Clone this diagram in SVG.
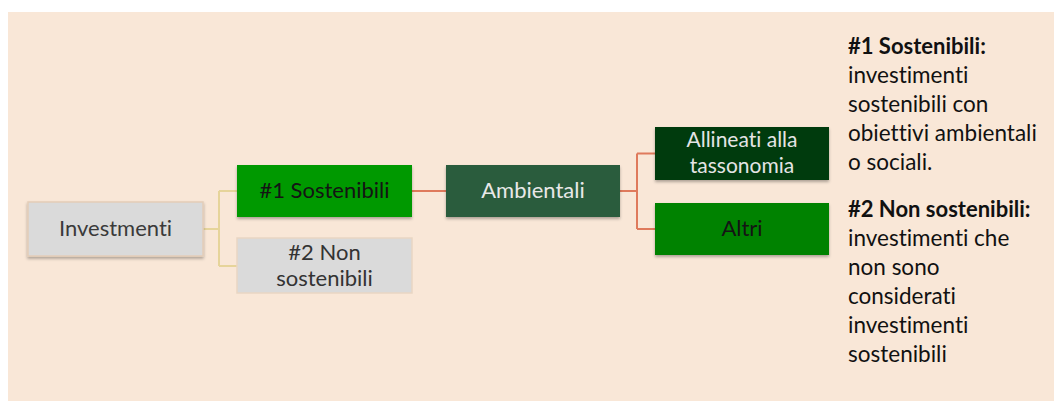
<svg xmlns="http://www.w3.org/2000/svg" width="1054" height="401" viewBox="0 0 1054 401">
  <defs>
    <filter id="sh" x="-10%" y="-20%" width="120%" height="150%">
      <feDropShadow dx="0" dy="2" stdDeviation="1.5" flood-color="#000" flood-opacity="0.3"/>
    </filter>
    <style>
      text { font-variant-ligatures: none; font-feature-settings: "liga" 0, "clig" 0; }
      .t { font-family: Lato, "Liberation Sans", sans-serif; font-size: 22px; }
      .c { text-anchor: middle; }
      .side { font-family: Lato, "Liberation Sans", sans-serif; font-size: 22.5px; fill: #111; }
      .b { font-weight: bold; font-size: 22px; }
      .lc1 { fill: none; stroke: #e6d49a; stroke-width: 2; }
      .lc2 { fill: none; stroke: #df7a5c; stroke-width: 2; }
    </style>
  </defs>
  <rect x="8" y="12" width="1046" height="389" fill="#f9e7d7"/>

  <g id="connectors">
    <path class="lc1" d="M203,229 H219 M219,191 V266 M219,191 H237 M219,266 H237"/>
    <path class="lc2" d="M412,191 H446"/>
    <path class="lc2" d="M620,191 H637 M637,153.5 V229 M637,153.5 H655 M637,229 H655"/>
  </g>

  <g id="investmenti">
    <rect x="28" y="202" width="175" height="54" fill="#dadada" stroke="#e3cdb8" stroke-width="1.5" filter="url(#sh)"/>
    <text class="t c" x="115.5" y="236" fill="#3a3a3a">Investmenti</text>
  </g>
  <g id="sostenibili">
    <rect x="237" y="165" width="175" height="52" fill="#009900" filter="url(#sh)"/>
    <text class="t c" x="324.5" y="198" fill="#141414">#1 Sostenibili</text>
  </g>
  <g id="non-sostenibili">
    <rect x="237" y="238" width="175" height="55" fill="#dadada" stroke="#e9d6c3" stroke-width="1.5"/>
    <text class="t c" x="324.5" y="260" fill="#333">#2 Non</text>
    <text class="t c" x="324.5" y="286" fill="#333">sostenibili</text>
  </g>
  <g id="ambientali">
    <rect x="446" y="165" width="174" height="52" fill="#2a5b3e" filter="url(#sh)"/>
    <text class="t c" x="533" y="198" fill="#e8e8e8">Ambientali</text>
  </g>
  <g id="allineati">
    <rect x="655" y="127" width="174" height="53" fill="#013a08" filter="url(#sh)"/>
    <text class="t c" x="742" y="147" fill="#e4e4e4" style="font-size:21px">Allineati alla</text>
    <text class="t c" x="742" y="173" fill="#e4e4e4" style="font-size:21px">tassonomia</text>
  </g>
  <g id="altri">
    <rect x="655" y="203" width="174" height="52" fill="#008200" filter="url(#sh)"/>
    <text class="t c" x="742" y="236" fill="#141414">Altri</text>
  </g>

  <g id="legend">
    <text class="side" x="848"><tspan class="b" x="848" y="54">#1 Sostenibili:</tspan><tspan x="848" y="83">investimenti</tspan><tspan x="848" y="112">sostenibili con</tspan><tspan x="848" y="141">obiettivi ambientali</tspan><tspan x="848" y="170">o sociali.</tspan></text>
    <text class="side" x="848"><tspan class="b" x="848" y="217">#2 Non sostenibili:</tspan><tspan x="848" y="246">investimenti che</tspan><tspan x="848" y="275">non sono</tspan><tspan x="848" y="304">considerati</tspan><tspan x="848" y="333">investimenti</tspan><tspan x="848" y="362">sostenibili</tspan></text>
  </g>
</svg>
